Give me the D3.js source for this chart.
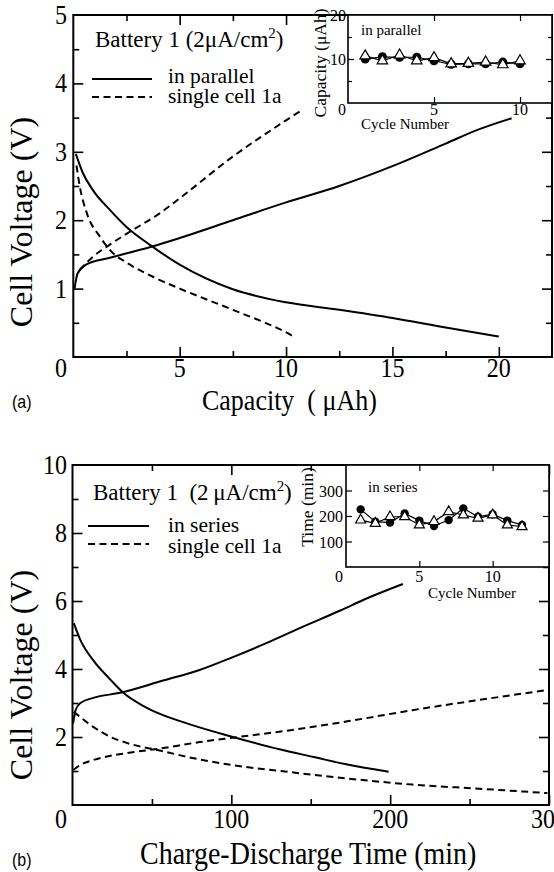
<!DOCTYPE html>
<html><head><meta charset="utf-8">
<script src="https://cdn.jsdelivr.net/npm/d3@7"></script>
<style>body{margin:0;background:#fff}svg{display:block}</style>
</head><body><svg id="c" width="554" height="872"></svg>
<script>
// ---------- Panel (a): capacity (uAh) vs cell voltage (V) ----------
const parallelDischarge = [[0.12,2.97],[0.45,2.69],[0.92,2.44],[1.72,2.15],[2.5,1.9],[3.6,1.64],[5,1.35],[7.5,0.99],[10,0.80],[12.5,0.69],[15,0.57],[17.5,0.43],[20,0.30]];
const parallelCharge    = [[0.06,1.0],[0.2,1.22],[0.6,1.35],[1.72,1.45],[2.8,1.54],[3.75,1.62],[5,1.74],[7.5,2.0],[10,2.26],[12.5,2.5],[15,2.79],[17.5,3.12],[19,3.32],[20.6,3.49]];
const single1aDischargeA = [[0.15,2.8],[0.3,2.5],[0.64,2.1],[1.25,1.76],[1.86,1.52],[2.5,1.38],[3.9,1.15],[5,1.0],[7.5,0.69],[10,0.36],[10.3,0.31]];
const single1aChargeA    = [[0.3,1.27],[0.9,1.46],[1.7,1.64],[2.65,1.83],[4.06,2.1],[5,2.32],[7.5,2.93],[10,3.46],[10.8,3.62]];
const xTicksA = [5,10,15,20], xMinorA = [2.5,7.5,12.5,17.5];
const yTicksA = [1,2,3,4,5], yMinorA = [0.5,1.5,2.5,3.5,4.5];

// inset (a): capacity vs cycle number, in parallel
const cyclesA = [1,2,3,4,5,6,7,8,9,10];
const capCircles   = [10.0,10.5,10.4,10.4,9.6,8.8,8.9,8.9,9.3,8.9];
const capTriangles = [10.7,9.6,10.9,9.6,10.3,8.9,9.0,9.3,8.7,9.6];
const insetAxTicks = [5,10], insetAyTicks = [10], insetAyMinor = [5,15];

// ---------- Panel (b): time (min) vs cell voltage (V) ----------
const seriesDischarge = [[0.8,5.35],[5,4.85],[13,4.26],[24,3.68],[32,3.30],[42,2.98],[51,2.76],[72,2.40],[101,2.0],[131,1.63],[152,1.41],[173,1.19],[199,0.98]];
const seriesCharge    = [[0.4,2.4],[2,2.8],[5,3.0],[13,3.15],[30,3.3],[57,3.66],[80,3.97],[101,4.35],[122,4.76],[143,5.2],[168.6,5.72],[185.5,6.08],[208,6.5]];
const single1aDischargeB = [[0.8,2.74],[13,2.3],[24,2.0],[34.6,1.82],[55,1.6],[80,1.34],[101,1.17],[131,1.0],[173,0.78],[214,0.6],[256,0.48],[299,0.35]];
const single1aChargeB    = [[0.5,1.03],[5,1.18],[13,1.32],[34.6,1.53],[55,1.66],[80,1.85],[101,1.98],[131,2.16],[173,2.46],[214,2.79],[256,3.09],[299,3.38]];
const xTicksB = [100,200,300], xMinorB = [50,150,250];
const yTicksB = [2,4,6,8,10], yMinorB = [1,3,5,7,9];

// inset (b): time vs cycle number, in series
const cyclesB = [1,2,3,4,5,6,7,8,9,10,11,12];
const timeCircles   = [226,178,174,210,182,161,184,230,197,207,182,165];
const timeTriangles = [184,171,197,197,165,178,217,204,191,204,165,158];
const insetBxTicks = [5,10], insetByTicks = [100,200,300];

// ---------- helpers ----------
const svg = d3.select("#c");
const SERIF = "'Liberation Serif','Times New Roman',serif";
const SANS = "'Liberation Sans',Arial,sans-serif";
function txt(x, y, str, size, o = {}) {
  const sy = o.sy || 1;
  const t = svg.append("text")
    .attr("transform", `translate(${x},${y}) scale(1,${sy})` + (o.rot ? " rotate(-90)" : ""))
    .attr("font-family", o.font || SERIF).attr("font-size", size)
    .attr("text-anchor", o.anchor || "start").attr("fill", "#000");
  if (o.sup) {
    t.append("tspan").text(str);
    t.append("tspan").attr("font-size", size * 0.65).attr("dy", -size * 0.4).text(o.sup);
    t.append("tspan").attr("dy", size * 0.4).text(o.after || "");
  } else t.text(str);
  return t;
}
function tk(g, axisFn, scale, vals, size, tr, sw) {
  g.append("g").attr("transform", tr)
    .call(axisFn(scale).tickValues(vals).tickSize(-size).tickFormat(""))
    .call(a => a.select(".domain").remove())
    .call(a => a.selectAll("line").attr("stroke", "#000").attr("stroke-width", sw));
}
function frame(x, y, o) {
  const g = svg.append("g");
  const [x0, x1] = x.range(), [yb, yt] = y.range();
  g.append("rect").attr("x", x0).attr("y", yt).attr("width", x1 - x0).attr("height", yb - yt)
    .attr("fill", o.fill || "none").attr("stroke", "#000").attr("stroke-width", o.sw);
  [[o.xMaj, o.big], [o.xMin || [], o.small]].forEach(([v, s]) => {
    tk(g, d3.axisBottom, x, v, s, `translate(0,${yb})`, o.tsw);
    tk(g, d3.axisTop, x, v, s, `translate(0,${yt})`, o.tsw);
  });
  [[o.yMaj, o.big], [o.yMin || [], o.small]].forEach(([v, s]) => {
    tk(g, d3.axisLeft, y, v, s, `translate(${x0},0)`, o.tsw);
    tk(g, d3.axisRight, y, v, s, `translate(${x1},0)`, o.tsw);
  });
  return g;
}
function curve(x, y, data, dashed, w) {
  const line = d3.line().x(d => x(d[0])).y(d => y(d[1])).curve(d3.curveMonotoneX);
  svg.append("path").attr("d", line(data)).attr("fill", "none").attr("stroke", "#000")
    .attr("stroke-width", w || 2).attr("stroke-dasharray", dashed ? "7,4.5" : null);
}
function markers(x, y, cyc, circ, tri, rC, aT) {
  const lc = d3.line().x(d => x(d[0])).y(d => y(d[1]));
  const dc = d3.zip(cyc, circ), dt = d3.zip(cyc, tri);
  svg.append("path").attr("d", lc(dc)).attr("fill", "none").attr("stroke", "#000").attr("stroke-width", 1.2);
  svg.append("path").attr("d", lc(dt)).attr("fill", "none").attr("stroke", "#000").attr("stroke-width", 1.2);
  svg.append("g").selectAll("path").data(dc).join("path")
    .attr("transform", d => `translate(${x(d[0])},${y(d[1])})`)
    .attr("d", d3.symbol(d3.symbolCircle, Math.PI * rC * rC)()).attr("fill", "#000");
  svg.append("g").selectAll("path").data(dt).join("path")
    .attr("transform", d => `translate(${x(d[0])},${y(d[1])})`)
    .attr("d", d3.symbol(d3.symbolTriangle, aT)()).attr("fill", "#fff").attr("stroke", "#000").attr("stroke-width", 1.2);
}
const TS = 1.1;

// ---------- Panel (a) ----------
const xA = d3.scaleLinear().domain([0, 22.5]).range([73.3, 552]);
const yA = d3.scaleLinear().domain([0, 5]).range([357, 15]);
curve(xA, yA, parallelDischarge, false);
curve(xA, yA, parallelCharge, false);
curve(xA, yA, single1aDischargeA, true);
curve(xA, yA, single1aChargeA, true);
frame(xA, yA, {xMaj: xTicksA, xMin: xMinorA, yMaj: yTicksA.slice(0, 4), yMin: yMinorA, big: 10, small: 6, sw: 2, tsw: 1.6});
xTicksA.forEach(v => txt(xA(v), 377, String(v), 24, {anchor: "middle", sy: TS}));
txt(67, 377, "0", 24, {anchor: "end", sy: TS});
yTicksA.forEach(v => txt(67, Math.max(yA(v) + 9, 21), String(v), 24, {anchor: "end", sy: TS}));
txt(202, 410, "Capacity\u00a0 ( \u03bcAh)", 26, {sy: 1.15});
txt(32, 222, "Cell Voltage (V)", 32, {rot: true, anchor: "middle"});
txt(12, 408, "(a)", 16, {font: SANS, sy: 1.15});
// legend (a)
txt(95, 47, "Battery 1 (2\u03bcA/cm", 23, {sup: "2", after: ")"});
svg.append("line").attr("x1", 92).attr("x2", 152).attr("y1", 79).attr("y2", 79).attr("stroke", "#000").attr("stroke-width", 2);
svg.append("line").attr("x1", 92).attr("x2", 152).attr("y1", 97).attr("y2", 97).attr("stroke", "#000").attr("stroke-width", 2).attr("stroke-dasharray", "7,4.5");
txt(168, 83, "in parallel", 21.5);
txt(168, 103, "single cell 1a", 21.5);

// inset (a)
const xIa = d3.scaleLinear().domain([0, 11.86]).range([348, 552]);
const yIa = d3.scaleLinear().domain([0, 20]).range([103, 15]);
frame(xIa, yIa, {xMaj: insetAxTicks, yMaj: insetAyTicks, yMin: insetAyMinor, big: 6, small: 4, sw: 1.6, tsw: 1.2, fill: "#fff"});
markers(xIa, yIa, cyclesA, capCircles, capTriangles, 4.5, 48);
[20, 10].forEach(v => txt(346, yIa(v) + 6, String(v), 16, {anchor: "end"}));
txt(346, 115, "0", 16, {anchor: "end"});
insetAxTicks.forEach(v => txt(xIa(v), 115, String(v), 16, {anchor: "middle"}));
txt(361, 129, "Cycle Number", 15);
txt(361, 35, "in parallel", 15);
txt(326, 63, "Capacity (\u03bcAh)", 17.5, {rot: true, anchor: "middle"});

// ---------- Panel (b) ----------
const xB = d3.scaleLinear().domain([0, 300]).range([72.5, 549]);
const yB = d3.scaleLinear().domain([0, 10]).range([805, 465]);
curve(xB, yB, seriesDischarge, false);
curve(xB, yB, seriesCharge, false);
curve(xB, yB, single1aDischargeB, true);
curve(xB, yB, single1aChargeB, true);
frame(xB, yB, {xMaj: xTicksB, xMin: xMinorB, yMaj: yTicksB.slice(0, 4), yMin: yMinorB, big: 10, small: 6, sw: 2, tsw: 1.6});
xTicksB.forEach(v => txt(xB(v), 828, String(v), 24, {anchor: "middle", sy: TS}));
txt(67, 828, "0", 24, {anchor: "end", sy: TS});
yTicksB.forEach(v => txt(67, yB(v) + 9, String(v), 24, {anchor: "end", sy: TS}));
txt(140, 864, "Charge-Discharge Time (min)", 28, {sy: 1.1});
txt(32, 675, "Cell Voltage (V)", 32, {rot: true, anchor: "middle"});
txt(12, 866, "(b)", 16, {font: SANS, sy: 1.15});
// legend (b)
txt(93, 500, "Battery 1\u00a0 (2\u2009\u03bcA/cm", 23, {sup: "2", after: ")"});
svg.append("line").attr("x1", 88).attr("x2", 149).attr("y1", 526).attr("y2", 526).attr("stroke", "#000").attr("stroke-width", 2);
svg.append("line").attr("x1", 88).attr("x2", 149).attr("y1", 544).attr("y2", 544).attr("stroke", "#000").attr("stroke-width", 2).attr("stroke-dasharray", "7,4.5");
txt(168, 532, "in series", 21.5);
txt(168, 553, "single cell 1a", 21.5);

// inset (b)
const xIb = d3.scaleLinear().domain([0, 13.84]).range([346, 549]);
const yIb = d3.scaleLinear().domain([0, 400]).range([567, 465]);
frame(xIb, yIb, {xMaj: insetBxTicks, yMaj: insetByTicks, big: 6, small: 4, sw: 1.6, tsw: 1.2, fill: "#fff"});
markers(xIb, yIb, cyclesB, timeCircles, timeTriangles, 4.2, 44);
insetByTicks.forEach(v => txt(343, yIb(v) + 6, String(v), 16, {anchor: "end"}));
txt(343, 582, "0", 16, {anchor: "end"});
insetBxTicks.forEach(v => txt(xIb(v), 582, String(v), 16, {anchor: "middle"}));
txt(428, 598, "Cycle Number", 15);
txt(368, 492, "in series", 15);
txt(313, 507, "Time (min)", 17.5, {rot: true, anchor: "middle"});
</script></body></html>
